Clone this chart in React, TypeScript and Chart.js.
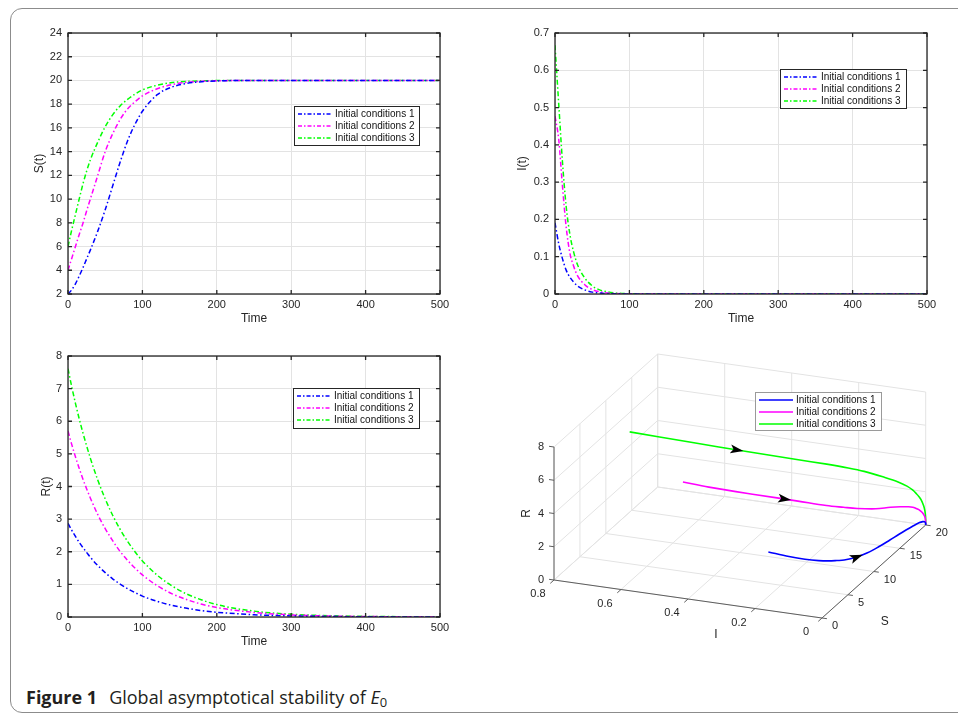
import React, { useEffect, useRef } from 'react';
import { Chart, registerables } from 'chart.js';

Chart.register(...registerables);

// ---------------- data ----------------
const time = [0, 5, 10, 15, 20, 25, 30, 40, 50, 60, 70, 80, 90, 100, 120, 140, 160, 180, 200, 250, 300, 350, 400, 450, 500];

const S1 = [2.0, 2.35, 2.85, 3.5, 4.2, 4.95, 5.7, 7.3, 9.1, 11.1, 13.1, 14.9, 16.3, 17.4, 18.8, 19.45, 19.75, 19.9, 19.96, 20, 20, 20, 20, 20, 20];
const S2 = [4.0, 5.0, 6.0, 7.0, 7.95, 9.0, 10.0, 12.0, 14.0, 15.5, 16.7, 17.6, 18.2, 18.7, 19.3, 19.65, 19.85, 19.93, 19.97, 20, 20, 20, 20, 20, 20];
const S3 = [6.0, 7.4, 8.7, 10.0, 11.25, 12.35, 13.3, 14.8, 16.1, 17.1, 17.85, 18.4, 18.85, 19.2, 19.6, 19.82, 19.92, 19.97, 19.99, 20, 20, 20, 20, 20, 20];

const I1 = [0.191, 0.135, 0.095, 0.064, 0.045, 0.032, 0.022, 0.011, 0.005, 0.0025, 0.0012, 0.0006, 0.0003, 0.0001, 0, 0, 0, 0, 0, 0, 0, 0, 0, 0, 0];
const I2 = [0.477, 0.415, 0.29, 0.18, 0.11, 0.075, 0.05, 0.025, 0.012, 0.006, 0.003, 0.0015, 0.0008, 0.0004, 0.0001, 0, 0, 0, 0, 0, 0, 0, 0, 0, 0];
const I3 = [0.667, 0.51, 0.355, 0.235, 0.16, 0.113, 0.08, 0.043, 0.022, 0.011, 0.006, 0.003, 0.0015, 0.0008, 0.0002, 0, 0, 0, 0, 0, 0, 0, 0, 0, 0];

const R1 = [2.87, 2.66, 2.47, 2.29, 2.13, 1.98, 1.83, 1.58, 1.36, 1.17, 1.01, 0.87, 0.75, 0.64, 0.48, 0.355, 0.265, 0.195, 0.145, 0.07, 0.032, 0.015, 0.007, 0.003, 0.0015];
const R2 = [5.7, 5.29, 4.91, 4.56, 4.23, 3.93, 3.65, 3.14, 2.71, 2.34, 2.01, 1.74, 1.5, 1.29, 0.96, 0.71, 0.53, 0.39, 0.29, 0.14, 0.065, 0.03, 0.015, 0.007, 0.003];
const R3 = [7.61, 7.06, 6.55, 6.08, 5.65, 5.25, 4.87, 4.2, 3.62, 3.12, 2.69, 2.32, 2.0, 1.72, 1.28, 0.95, 0.7, 0.52, 0.38, 0.18, 0.085, 0.04, 0.02, 0.01, 0.005];

const seriesLabels = ['Initial conditions 1', 'Initial conditions 2', 'Initial conditions 3'];
const seriesColors = ['#0000ff', '#ff00ff', '#00ff00'];

const timeAxis = { min: 0, max: 500, step: 100 };
const sAxis = { min: 2, max: 24, step: 2 };
const iAxis = { min: 0, max: 0.7, step: 0.1 };
const rAxis = { min: 0, max: 8, step: 1 };

// 3D phase portrait axes
const iTicks3D = [0, 0.2, 0.4, 0.6, 0.8];
const sTicks3D = [0, 5, 10, 15, 20];
const rTicks3D = [0, 2, 4, 6, 8];
// fractional index (into time) where the direction arrows sit, per series
const arrowAt = [7, 2.67, 1.8];

// ---------------- styles ----------------
const FONT = "'Liberation Sans', Arial, Helvetica, sans-serif";
const AXIS_COLOR = '#262626';
const GRID_COLOR = '#e3e3e3';
const DASH = [5, 2.5, 1.5, 2.5];

type Box = { x: number; y: number; w: number; h: number };

function legendPlugin(box: Box, dashed: boolean, border: string) {
  return {
    id: 'boxLegend',
    afterDraw(chart: any) {
      const ctx = chart.ctx;
      ctx.save();
      ctx.fillStyle = '#ffffff';
      ctx.fillRect(box.x, box.y, box.w, box.h);
      ctx.strokeStyle = border;
      ctx.lineWidth = 1;
      ctx.setLineDash([]);
      ctx.strokeRect(box.x + 0.5, box.y + 0.5, box.w, box.h);
      chart.data.datasets.forEach((ds: any, i: number) => {
        const y = box.y + 8 + i * 12;
        ctx.strokeStyle = ds.borderColor;
        ctx.lineWidth = 1.5;
        ctx.setLineDash(dashed ? [4, 2, 1.5, 2] : []);
        ctx.beginPath();
        ctx.moveTo(box.x + 4, y);
        ctx.lineTo(box.x + 38, y);
        ctx.stroke();
        ctx.setLineDash([]);
        ctx.fillStyle = '#111111';
        ctx.font = `10px ${FONT}`;
        ctx.textBaseline = 'middle';
        ctx.textAlign = 'left';
        ctx.fillText(ds.label, box.x + 41, y + 0.5);
      });
      ctx.restore();
    },
  };
}

const matlabBox = {
  id: 'matlabBox',
  afterDatasetsDraw(chart: any) {
    const { ctx, chartArea: a, scales } = chart;
    ctx.save();
    ctx.strokeStyle = AXIS_COLOR;
    ctx.lineWidth = 1.3;
    ctx.setLineDash([]);
    ctx.strokeRect(a.left, a.top, a.right - a.left, a.bottom - a.top);
    const tl = 4;
    ctx.beginPath();
    scales.x.ticks.forEach((t: any) => {
      const x = scales.x.getPixelForValue(t.value);
      ctx.moveTo(x, a.bottom);
      ctx.lineTo(x, a.bottom - tl);
      ctx.moveTo(x, a.top);
      ctx.lineTo(x, a.top + tl);
    });
    scales.y.ticks.forEach((t: any) => {
      const y = scales.y.getPixelForValue(t.value);
      ctx.moveTo(a.left, y);
      ctx.lineTo(a.left + tl, y);
      ctx.moveTo(a.right, y);
      ctx.lineTo(a.right - tl, y);
    });
    ctx.stroke();
    ctx.restore();
  },
};

type PlotProps = {
  pos: Box;
  area: { l: number; t: number; r: number; b: number };
  values: number[][];
  yAxis: { min: number; max: number; step: number };
  yTitle: string;
  yTitlePad: number;
  legend: Box;
};

function TimePlot({ pos, area, values, yAxis, yTitle, yTitlePad, legend }: PlotProps) {
  const ref = useRef<HTMLCanvasElement>(null);
  useEffect(() => {
    const canvas = ref.current!;
    const chart = new Chart(canvas, {
      type: 'line',
      data: {
        datasets: values.map((vals, k) => ({
          label: seriesLabels[k],
          data: time.map((t, i) => ({ x: t, y: vals[i] })),
          borderColor: seriesColors[k],
          backgroundColor: seriesColors[k],
          borderWidth: 1.5,
          borderDash: DASH,
          pointRadius: 0,
          fill: false,
          cubicInterpolationMode: 'monotone',
        })),
      },
      options: {
        responsive: false,
        animation: false,
        devicePixelRatio: 1,
        layout: { padding: { top: area.t, right: pos.w - area.r, left: 0, bottom: 0 } },
        plugins: { legend: { display: false }, tooltip: { enabled: false } },
        scales: {
          x: {
            type: 'linear',
            min: timeAxis.min,
            max: timeAxis.max,
            ticks: { stepSize: timeAxis.step, padding: 4, color: AXIS_COLOR, maxRotation: 0, font: { family: FONT, size: 11 } },
            grid: { color: GRID_COLOR, drawTicks: false },
            border: { display: false },
            title: { display: true, text: 'Time', color: AXIS_COLOR, font: { family: FONT, size: 12 }, padding: { top: 0, bottom: 3.8 } },
            afterFit: (s: any) => { s.height = pos.h - area.b; },
          },
          y: {
            type: 'linear',
            min: yAxis.min,
            max: yAxis.max,
            ticks: {
              stepSize: yAxis.step,
              padding: 6,
              color: AXIS_COLOR,
              font: { family: FONT, size: 11 },
              callback: (v: any) => String(Number(Number(v).toFixed(2))),
            },
            grid: { color: GRID_COLOR, drawTicks: false },
            border: { display: false },
            title: { display: true, text: yTitle, color: AXIS_COLOR, font: { family: FONT, size: 12 }, padding: { top: yTitlePad, bottom: 0 } },
            afterFit: (s: any) => { s.width = area.l; },
          },
        },
      } as any,
      plugins: [matlabBox, legendPlugin(legend, true, AXIS_COLOR)],
    });
    return () => chart.destroy();
  }, []);
  return (
    <canvas
      ref={ref}
      width={pos.w}
      height={pos.h}
      style={{ position: 'absolute', left: pos.x, top: pos.y, width: pos.w, height: pos.h }}
    />
  );
}

// ---------------- 3D phase portrait ----------------
const P3 = { ox: 332, oy: 278, ix: -335, iy: -47.5, sx: 5.185, sy: -4.65, rz: -16.625 };
function proj(i: number, s: number, r: number) {
  return { x: P3.ox + P3.ix * i + P3.sx * s, y: P3.oy + P3.iy * i + P3.sy * s + P3.rz * r };
}

function PhasePlot3D() {
  const ref = useRef<HTMLCanvasElement>(null);
  const W = 468;
  const H = 310;
  useEffect(() => {
    const canvas = ref.current!;
    const Is = [I1, I2, I3];
    const Ss = [S1, S2, S3];
    const Rs = [R1, R2, R3];
    const iMin = iTicks3D[0], iMax = iTicks3D[iTicks3D.length - 1];
    const sMin = sTicks3D[0], sMax = sTicks3D[sTicks3D.length - 1];
    const rMin = rTicks3D[0], rMax = rTicks3D[rTicks3D.length - 1];

    const toPx = (chart: any, p: { x: number; y: number }) => ({
      x: chart.scales.x.getPixelForValue(p.x),
      y: chart.scales.y.getPixelForValue(p.y),
    });

    const box3D = {
      id: 'box3D',
      beforeDatasetsDraw(chart: any) {
        const ctx = chart.ctx;
        const P = (i: number, s: number, r: number) => toPx(chart, proj(i, s, r));
        const seg = (a: number[], b: number[]) => {
          const pa = P(a[0], a[1], a[2]);
          const pb = P(b[0], b[1], b[2]);
          ctx.moveTo(pa.x, pa.y);
          ctx.lineTo(pb.x, pb.y);
        };
        ctx.save();
        // grid on the back walls and floor
        ctx.strokeStyle = GRID_COLOR;
        ctx.lineWidth = 1;
        ctx.beginPath();
        sTicks3D.forEach((s) => seg([iMax, s, rMin], [iMax, s, rMax]));
        rTicks3D.forEach((r) => seg([iMax, sMin, r], [iMax, sMax, r]));
        iTicks3D.forEach((i) => seg([i, sMax, rMin], [i, sMax, rMax]));
        rTicks3D.forEach((r) => seg([iMin, sMax, r], [iMax, sMax, r]));
        iTicks3D.forEach((i) => seg([i, sMin, rMin], [i, sMax, rMin]));
        sTicks3D.forEach((s) => seg([iMin, s, rMin], [iMax, s, rMin]));
        ctx.stroke();

        // axes
        ctx.strokeStyle = '#5e5e5e';
        ctx.beginPath();
        seg([iMax, sMin, rMin], [iMax, sMin, rMax]);
        seg([iMax, sMin, rMin], [iMin, sMin, rMin]);
        seg([iMin, sMin, rMin], [iMin, sMax, rMin]);
        // ticks
        const o = P(0, 0, 0);
        const dirOf = (p: { x: number; y: number }) => {
          const dx = p.x - o.x, dy = p.y - o.y;
          const L = Math.hypot(dx, dy);
          return { x: dx / L, y: dy / L };
        };
        const dI = dirOf(P(1, 0, 0));
        const dS = dirOf(P(0, 1, 0));
        const tl = 5;
        iTicks3D.forEach((i) => {
          const p = P(i, sMin, rMin);
          ctx.moveTo(p.x, p.y);
          ctx.lineTo(p.x - dS.x * tl, p.y - dS.y * tl);
        });
        sTicks3D.forEach((s) => {
          const p = P(iMin, s, rMin);
          ctx.moveTo(p.x, p.y);
          ctx.lineTo(p.x - dI.x * tl, p.y - dI.y * tl);
        });
        rTicks3D.forEach((r) => {
          const p = P(iMax, sMin, r);
          ctx.moveTo(p.x, p.y);
          ctx.lineTo(p.x + dI.x * tl, p.y + dI.y * tl);
        });
        ctx.stroke();

        // tick labels
        ctx.fillStyle = AXIS_COLOR;
        ctx.font = `11px ${FONT}`;
        ctx.textBaseline = 'middle';
        ctx.textAlign = 'right';
        rTicks3D.forEach((r) => {
          const p = P(iMax, sMin, r);
          ctx.fillText(String(r), p.x - 10, p.y);
        });
        ctx.textAlign = 'center';
        iTicks3D.forEach((i) => {
          const p = P(i, sMin, rMin);
          ctx.fillText(String(i), p.x - 16, p.y + 14);
        });
        ctx.textAlign = 'left';
        sTicks3D.forEach((s) => {
          const p = P(iMin, s, rMin);
          ctx.fillText(String(s), p.x + 10, p.y + 8);
        });

        // axis titles
        ctx.font = `12px ${FONT}`;
        ctx.textAlign = 'center';
        const pI = P((iMin + iMax) / 2, sMin, rMin);
        ctx.fillText('I', pI.x + 28, pI.y + 36);
        const pS = P(iMin, (sMin + sMax) / 2, rMin);
        ctx.fillText('S', pS.x + 11, pS.y + 50);
        const pR = P(iMax, sMin, (rMin + rMax) / 2);
        ctx.save();
        ctx.translate(pR.x - 27, pR.y);
        ctx.rotate(-Math.PI / 2);
        ctx.fillText('R', 0, 0);
        ctx.restore();
        ctx.restore();
      },
      afterDatasetsDraw(chart: any) {
        const ctx = chart.ctx;
        ctx.save();
        ctx.fillStyle = '#000000';
        chart.data.datasets.forEach((ds: any, k: number) => {
          const f = arrowAt[k];
          const i0 = Math.floor(f);
          const a = toPx(chart, ds.data[i0]);
          const b = toPx(chart, ds.data[i0 + 1]);
          const t = f - i0;
          const cx = a.x + (b.x - a.x) * t;
          const cy = a.y + (b.y - a.y) * t;
          const L = Math.hypot(b.x - a.x, b.y - a.y);
          const ux = (b.x - a.x) / L, uy = (b.y - a.y) / L;
          const nx = -uy, ny = ux;
          ctx.beginPath();
          ctx.moveTo(cx + ux * 7, cy + uy * 7);
          ctx.lineTo(cx - ux * 6 + nx * 4.5, cy - uy * 6 + ny * 4.5);
          ctx.lineTo(cx - ux * 3, cy - uy * 3);
          ctx.lineTo(cx - ux * 6 - nx * 4.5, cy - uy * 6 - ny * 4.5);
          ctx.closePath();
          ctx.fill();
        });
        ctx.restore();
      },
    };

    const chart = new Chart(canvas, {
      type: 'scatter',
      data: {
        datasets: [0, 1, 2].map((k) => ({
          label: seriesLabels[k],
          data: time.map((_, j) => proj(Is[k][j], Ss[k][j], Rs[k][j])),
          borderColor: seriesColors[k],
          backgroundColor: seriesColors[k],
          borderWidth: 1.6,
          showLine: true,
          pointRadius: 0,
          tension: 0.35,
          fill: false,
        })),
      },
      options: {
        responsive: false,
        animation: false,
        devicePixelRatio: 1,
        layout: { padding: 0 },
        plugins: { legend: { display: false }, tooltip: { enabled: false } },
        scales: {
          x: { type: 'linear', min: 0, max: W, display: false },
          y: { type: 'linear', min: 0, max: H, reverse: true, display: false },
        },
      } as any,
      plugins: [box3D, legendPlugin({ x: 265, y: 52, w: 126, h: 38 }, false, '#9a9a9a')],
    });
    return () => chart.destroy();
  }, []);
  return (
    <canvas
      ref={ref}
      width={W}
      height={H}
      style={{ position: 'absolute', left: 490, top: 340, width: W, height: H }}
    />
  );
}

export default function App() {
  return (
    <div
      style={{
        position: 'fixed',
        left: 0,
        top: 0,
        width: 958,
        height: 714,
        overflow: 'hidden',
        background: '#ffffff',
      }}
    >
      <div
        style={{
          position: 'absolute',
          left: 10,
          top: 8,
          width: 1000,
          height: 703,
          border: '1.5px solid #8c8c8c',
          borderRadius: 12,
        }}
      />
      <TimePlot
        pos={{ x: 20, y: 20, w: 440, h: 310 }}
        area={{ l: 48, t: 13, r: 420, b: 274 }}
        values={[S1, S2, S3]}
        yAxis={sAxis}
        yTitle="S(t)"
        yTitlePad={12.8}
        legend={{ x: 274, y: 86, w: 125, h: 39 }}
      />
      <TimePlot
        pos={{ x: 507, y: 20, w: 440, h: 310 }}
        area={{ l: 48, t: 13, r: 420, b: 274 }}
        values={[I1, I2, I3]}
        yAxis={iAxis}
        yTitle="I(t)"
        yTitlePad={8.8}
        legend={{ x: 273, y: 49, w: 126, h: 39 }}
      />
      <TimePlot
        pos={{ x: 20, y: 343, w: 440, h: 310 }}
        area={{ l: 48, t: 13, r: 420, b: 274 }}
        values={[R1, R2, R3]}
        yAxis={rAxis}
        yTitle="R(t)"
        yTitlePad={19.5}
        legend={{ x: 273, y: 45, w: 126, h: 40 }}
      />
      <PhasePlot3D />
      <div
        style={{
          position: 'absolute',
          left: 26,
          top: 686,
          fontFamily: "'Open Sans', 'Noto Sans', sans-serif",
          fontSize: 18,
          lineHeight: '22px',
          color: '#231f20',
          whiteSpace: 'nowrap',
        }}
      >
        <span style={{ fontWeight: 700 }}>Figure 1</span>
        <span style={{ marginLeft: 12 }}>
          Global asymptotical stability of <i>E</i>
          <span style={{ fontSize: '0.72em', verticalAlign: '-0.25em', lineHeight: 0 }}>0</span>
        </span>
      </div>
    </div>
  );
}
